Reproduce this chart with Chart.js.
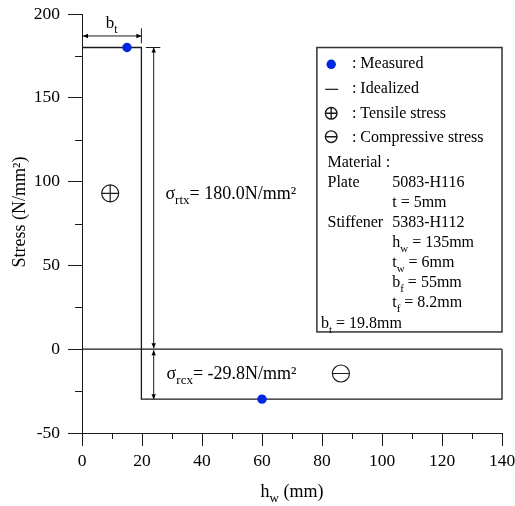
<!DOCTYPE html>
<html>
<head>
<meta charset="utf-8">
<script src="https://cdn.jsdelivr.net/npm/chart.js@4.4.1/dist/chart.umd.min.js"></script>
<style>
  html, body { margin: 0; padding: 0; background: #fff; }
  #wrap { width: 515px; height: 506px; }
</style>
</head>
<body>
<div id="wrap"><canvas id="c" width="515" height="506"></canvas></div>
<script>
// Residual stress distribution across the stiffener web
const measuredX = [15, 60];
const measuredY = [180, -29.8];

const idealizedX = [0, 19.8, 19.8, 140, 140];
const idealizedY = [180, 180, -29.8, -29.8, 0];

const zeroX = [0, 140];
const zeroY = [0, 0];

const xTicks = [0, 20, 40, 60, 80, 100, 120, 140];
const yTicks = [-50, 0, 50, 100, 150, 200];

const tensileStress = 180.0;
const compressiveStress = -29.8;
const tensionWidth = 19.8;

const FONT = '"Liberation Serif", "Times New Roman", serif';
const INK = '#1a1a1a';

function pts(xs, ys) { return xs.map((x, i) => ({ x: x, y: ys[i] })); }

// Draws a run of text pieces, some of them as subscripts
function richText(ctx, x, y, parts, size) {
  let cx = x;
  ctx.textBaseline = 'alphabetic';
  ctx.textAlign = 'left';
  for (const p of parts) {
    if (p.sub) {
      ctx.font = Math.round(size * 0.7) + 'px ' + FONT;
      ctx.fillText(p.t, cx, y + size * 0.3);
    } else {
      ctx.font = size + 'px ' + FONT;
      ctx.fillText(p.t, cx, y);
    }
    cx += ctx.measureText(p.t).width;
  }
  return cx;
}

function richWidth(ctx, parts, size) {
  let w = 0;
  for (const p of parts) {
    ctx.font = (p.sub ? Math.round(size * 0.7) : size) + 'px ' + FONT;
    w += ctx.measureText(p.t).width;
  }
  return w;
}

function head(ctx, x, y, dx, dy) {
  const len = 5, w = 2.2;
  const d = Math.hypot(dx, dy); const ux = dx / d, uy = dy / d;
  ctx.beginPath();
  ctx.moveTo(x, y);
  ctx.lineTo(x - ux * len - uy * w, y - uy * len + ux * w);
  ctx.lineTo(x - ux * len + uy * w, y - uy * len - ux * w);
  ctx.closePath();
  ctx.fill();
}

function dimArrow(ctx, x1, y1, x2, y2) {
  ctx.beginPath();
  ctx.moveTo(x1, y1); ctx.lineTo(x2, y2);
  ctx.stroke();
  head(ctx, x2, y2, x2 - x1, y2 - y1);
  head(ctx, x1, y1, x1 - x2, y1 - y2);
}

function circleSign(ctx, cx, cy, r, plus) {
  ctx.beginPath();
  ctx.arc(cx, cy, r, 0, Math.PI * 2);
  ctx.moveTo(cx - r, cy); ctx.lineTo(cx + r, cy);
  if (plus) { ctx.moveTo(cx, cy - r); ctx.lineTo(cx, cy + r); }
  ctx.stroke();
}

const minorTicks = {
  id: 'minorTicks',
  afterDraw(chart) {
    const ctx = chart.ctx;
    const xs = chart.scales.x, ys = chart.scales.y;
    ctx.save();
    ctx.strokeStyle = INK;
    ctx.lineWidth = 1;
    for (let v = 10; v < 140; v += 20) {
      const px = Math.round(xs.getPixelForValue(v)) + 0.5;
      ctx.beginPath(); ctx.moveTo(px, ys.bottom); ctx.lineTo(px, ys.bottom + 6); ctx.stroke();
    }
    for (let v = -25; v < 200; v += 50) {
      const py = Math.round(ys.getPixelForValue(v)) + 0.5;
      ctx.beginPath(); ctx.moveTo(xs.left, py); ctx.lineTo(xs.left - 7, py); ctx.stroke();
    }
    ctx.restore();
  }
};

const notes = {
  id: 'notes',
  afterDatasetsDraw(chart) {
    const ctx = chart.ctx;
    const xs = chart.scales.x, ys = chart.scales.y;
    const X = v => xs.getPixelForValue(v), Y = v => ys.getPixelForValue(v);
    ctx.save();
    ctx.fillStyle = '#000';
    ctx.strokeStyle = INK;
    ctx.lineWidth = 1;

    // width of the tension zone
    const yb = Y(186.9);
    dimArrow(ctx, X(0) + 1, yb, X(tensionWidth), yb);
    ctx.beginPath(); ctx.moveTo(X(tensionWidth), Y(191.5)); ctx.lineTo(X(tensionWidth), Y(182.5)); ctx.stroke();
    const btParts = [{ t: 'b' }, { t: 't', sub: true }];
    richText(ctx, X(tensionWidth / 2) - richWidth(ctx, btParts, 17) / 2, Y(191.6), btParts, 17);

    // stress magnitude dimensions
    const xd = X(23.9);
    ctx.beginPath(); ctx.moveTo(X(21.3), Y(tensileStress)); ctx.lineTo(X(26.1), Y(tensileStress)); ctx.stroke();
    dimArrow(ctx, xd, Y(tensileStress), xd, Y(0) - 1);
    dimArrow(ctx, xd, Y(0) + 1, xd, Y(compressiveStress));

    richText(ctx, X(27.8), Y(89.6), [{ t: 'σ' }, { t: 'rtx', sub: true }, { t: '= ' + tensileStress.toFixed(1) + 'N/mm²' }], 18);
    richText(ctx, X(28.2), Y(-17.5), [{ t: 'σ' }, { t: 'rcx', sub: true }, { t: '= ' + compressiveStress.toFixed(1) + 'N/mm²' }], 18);

    ctx.lineWidth = 1.2;
    circleSign(ctx, X(9.4), Y(93), 8.5, true);
    circleSign(ctx, X(86.3), Y(-14.5), 8.5, false);

    // legend box
    const bx = X(78.3), by = Y(180), bx2 = X(140), by2 = Y(10.3);
    ctx.lineWidth = 1.5;
    ctx.strokeStyle = '#333';
    ctx.strokeRect(bx, by, bx2 - bx, by2 - by);

    ctx.fillStyle = '#0028e0';
    ctx.beginPath(); ctx.arc(bx + 14.3, by + 16.8, 4.7, 0, Math.PI * 2); ctx.fill();
    ctx.strokeStyle = INK;
    ctx.lineWidth = 1.2;
    ctx.beginPath(); ctx.moveTo(bx + 8.3, by + 41.8); ctx.lineTo(bx + 21.3, by + 41.8); ctx.stroke();
    ctx.lineWidth = 1.4;
    circleSign(ctx, bx + 14.3, by + 65.8, 5.8, true);
    circleSign(ctx, bx + 14.3, by + 89.2, 5.8, false);

    ctx.fillStyle = '#000';
    const tx = bx + 35;
    richText(ctx, tx, by + 20.8, [{ t: ': Measured' }], 16);
    richText(ctx, tx, by + 45.8, [{ t: ': Idealized' }], 16);
    richText(ctx, tx, by + 70.8, [{ t: ': Tensile stress' }], 16);
    richText(ctx, tx, by + 94.2, [{ t: ': Compressive stress' }], 16);

    const c1 = bx + 10.6, c2 = bx + 75.3;
    richText(ctx, c1, by + 119.8, [{ t: 'Material :' }], 16);
    richText(ctx, c1, by + 139.5, [{ t: 'Plate' }], 16);
    richText(ctx, c2, by + 139.5, [{ t: '5083-H116' }], 16);
    richText(ctx, c2, by + 159.5, [{ t: 't = 5mm' }], 16);
    richText(ctx, c1, by + 179.5, [{ t: 'Stiffener' }], 16);
    richText(ctx, c2, by + 179.5, [{ t: '5383-H112' }], 16);
    richText(ctx, c2, by + 199.5, [{ t: 'h' }, { t: 'w', sub: true }, { t: ' = 135mm' }], 16);
    richText(ctx, c2, by + 219.5, [{ t: 't' }, { t: 'w', sub: true }, { t: ' = 6mm' }], 16);
    richText(ctx, c2, by + 239.5, [{ t: 'b' }, { t: 'f', sub: true }, { t: ' = 55mm' }], 16);
    richText(ctx, c2, by + 259.5, [{ t: 't' }, { t: 'f', sub: true }, { t: ' = 8.2mm' }], 16);
    richText(ctx, bx + 4, by + 280.5, [{ t: 'b' }, { t: 't', sub: true }, { t: ' = ' + tensionWidth + 'mm' }], 16);

    // axis titles
    const midX = (xs.left + xs.right) / 2;
    const xtParts = [{ t: 'h' }, { t: 'w', sub: true }, { t: ' (mm)' }];
    richText(ctx, midX - richWidth(ctx, xtParts, 18) / 2, 496.5, xtParts, 18);

    ctx.translate(25, 212);
    ctx.rotate(-Math.PI / 2);
    ctx.font = '18px ' + FONT;
    ctx.textAlign = 'center';
    ctx.textBaseline = 'alphabetic';
    ctx.fillText('Stress (N/mm²)', 0, 0);
    ctx.restore();
  }
};

new Chart(document.getElementById('c'), {
  type: 'scatter',
  data: {
    datasets: [
      {
        label: 'Idealized',
        data: pts(idealizedX, idealizedY),
        showLine: true,
        borderColor: INK,
        borderWidth: 1.3,
        pointRadius: 0,
        fill: false,
        clip: false,
        order: 2
      },
      {
        label: 'Zero',
        data: pts(zeroX, zeroY),
        showLine: true,
        borderColor: INK,
        borderWidth: 1.3,
        pointRadius: 0,
        clip: false,
        order: 3
      },
      {
        label: 'Measured',
        data: pts(measuredX, measuredY),
        showLine: false,
        pointRadius: 4.7,
        pointBackgroundColor: '#0028e0',
        pointBorderWidth: 0,
        clip: false,
        order: 1
      }
    ]
  },
  options: {
    responsive: false,
    animation: false,
    devicePixelRatio: 1,
    layout: { padding: { top: 14, right: 13, left: 0, bottom: 0 } },
    plugins: { legend: { display: false }, tooltip: { enabled: false } },
    scales: {
      x: {
        type: 'linear',
        min: 0, max: 140,
        afterBuildTicks: s => { s.ticks = xTicks.map(v => ({ value: v })); },
        afterFit: s => { s.height = 73; s.paddingLeft = 0; s.paddingRight = 0; },
        ticks: { color: '#000', font: { family: FONT, size: 17.5 }, padding: 5, maxRotation: 0 },
        grid: { drawOnChartArea: false, color: INK, tickLength: 13, lineWidth: 1 },
        border: { color: INK, width: 1 }
      },
      y: {
        type: 'linear',
        min: -50, max: 200,
        afterBuildTicks: s => { s.ticks = yTicks.map(v => ({ value: v })); },
        afterFit: s => { s.width = 82; s.paddingTop = 0; s.paddingBottom = 0; },
        ticks: { color: '#000', font: { family: FONT, size: 17.5 }, padding: 8 },
        grid: { drawOnChartArea: false, color: INK, tickLength: 14, lineWidth: 1 },
        border: { color: INK, width: 1 }
      }
    }
  },
  plugins: [minorTicks, notes]
});
</script>
</body>
</html>
